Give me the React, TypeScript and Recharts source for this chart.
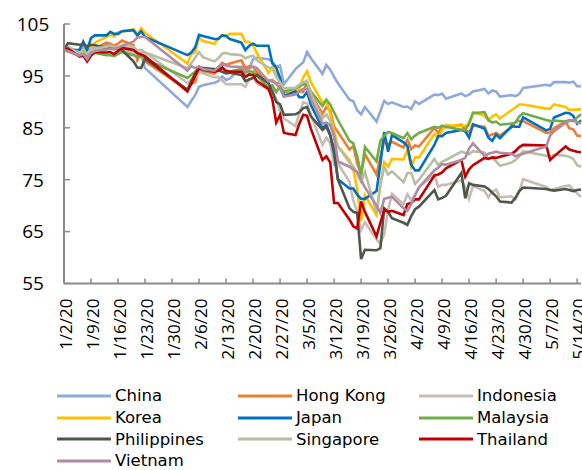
import React from 'react';
import { LineChart, Line, XAxis, YAxis, Legend } from 'recharts';

// Trading dates (2020)
const dates = [
  '1/2', '1/3', '1/6', '1/7', '1/8', '1/9', '1/10', '1/13', '1/14', '1/15', '1/16', '1/17', '1/20', '1/21', '1/22', '1/23',
  '2/3', '2/4', '2/5', '2/6', '2/7', '2/10', '2/11', '2/12', '2/13', '2/14', '2/17', '2/18', '2/19', '2/20', '2/21', '2/24', '2/25', '2/26', '2/27', '2/28',
  '3/2', '3/3', '3/4', '3/5', '3/6', '3/9', '3/10', '3/11', '3/12', '3/13', '3/16', '3/17', '3/18', '3/19', '3/20', '3/23', '3/24', '3/25', '3/26', '3/27', '3/30', '3/31',
  '4/1', '4/2', '4/3', '4/7', '4/8', '4/9', '4/10', '4/14', '4/15', '4/16', '4/17', '4/20', '4/21', '4/22', '4/23', '4/24', '4/27', '4/28', '4/29', '4/30',
  '5/6', '5/7', '5/8', '5/11', '5/12', '5/13', '5/14', '5/15',
];

const china = [
  100, 99.9, 99.9, 100.6, 99.4, 100.3, 100.2, 101.0, 100.7, 100.2, 99.6, 99.7, 100.3, 98.9, 99.2, 96.5,
  89.0, 90.2, 91.3, 92.9, 93.2, 93.7, 94.0, 94.9, 94.2, 94.5, 96.7, 96.8, 96.4, 98.2, 98.5, 98.2, 97.7, 96.8, 97.0, 93.4,
  96.3, 97.0, 97.6, 99.6, 98.4, 95.4, 97.1, 96.2, 94.8, 93.6, 90.4, 90.1, 88.4, 87.6, 89.0, 86.2, 88.2, 90.2, 89.6, 89.9, 89.0, 89.1,
  88.6, 90.1, 89.6, 91.4, 91.3, 91.6, 90.6, 91.6, 91.1, 91.4, 92.0, 92.5, 91.6, 92.2, 92.0, 91.0, 91.3, 91.1, 91.5, 92.7,
  93.3, 93.1, 93.8, 93.8, 93.7, 93.9, 93.0, 93.0,
];

const hongKong = [
  100, 99.7, 98.9, 99.2, 98.4, 100.1, 100.3, 101.4, 101.2, 100.8, 101.2, 101.8, 100.9, 98.0, 99.3, 97.8,
  92.3, 93.5, 93.8, 96.3, 96.0, 95.4, 96.6, 97.5, 97.1, 97.4, 98.0, 96.5, 96.9, 96.7, 95.7, 94.0, 94.2, 93.5, 93.8, 91.5,
  92.1, 92.1, 91.9, 93.8, 91.6, 87.7, 89.0, 88.4, 85.2, 84.2, 80.8, 81.5, 78.1, 76.1, 79.9, 76.0, 79.4, 82.4, 81.8, 82.3, 81.2, 82.7,
  80.9, 81.6, 81.4, 85.0, 84.0, 85.1, 85.1, 85.6, 84.6, 84.1, 85.4, 85.2, 83.4, 83.7, 84.0, 83.5, 85.1, 86.1, 86.3, 86.3,
  84.0, 84.1, 84.9, 86.2, 84.9, 84.7, 83.5, 83.4,
];

const indonesia = [
  100, 100.6, 99.6, 99.9, 99.1, 99.9, 99.9, 100.2, 100.7, 100.0, 100.0, 100.1, 99.4, 99.3, 99.2, 99.5,
  93.6, 94.3, 94.8, 95.6, 95.5, 94.7, 94.8, 94.1, 93.4, 93.4, 93.4, 92.9, 94.4, 94.6, 93.6, 92.4, 92.1, 90.5, 88.1, 86.8,
  85.3, 87.8, 89.9, 89.7, 87.5, 81.7, 83.1, 82.0, 77.9, 78.1, 74.6, 70.9, 68.9, 65.3, 66.8, 63.5, 62.7, 64.5, 69.1, 72.3, 70.3, 72.2,
  71.1, 72.1, 73.6, 76.0, 73.6, 74.0, 74.0, 74.9, 73.6, 71.3, 73.8, 72.8, 71.6, 72.7, 73.1, 71.6, 71.8, 71.2, 72.7, 75.1,
  73.6, 73.0, 73.2, 73.8, 73.9, 73.0, 72.4, 71.7,
];

const korea = [
  100, 100.1, 99.1, 100.0, 98.9, 100.5, 101.4, 102.5, 102.9, 102.6, 103.4, 103.5, 104.0, 103.0, 104.2, 103.3,
  97.4, 99.2, 99.6, 102.4, 101.7, 101.2, 102.2, 102.9, 102.7, 103.1, 103.1, 101.5, 101.6, 100.9, 99.4, 95.6, 96.7, 95.5, 94.5, 91.3,
  92.1, 92.6, 94.7, 95.9, 93.8, 89.9, 90.2, 87.7, 84.3, 81.4, 78.8, 76.9, 73.2, 67.0, 72.0, 68.2, 74.0, 78.4, 77.5, 79.0, 78.9, 80.7,
  77.5, 79.3, 79.3, 83.8, 83.1, 84.6, 85.5, 85.4, 85.4, 85.4, 88.0, 87.3, 86.4, 87.2, 87.6, 86.8, 88.4, 88.9, 89.5, 89.5,
  88.7, 88.7, 89.5, 89.0, 88.4, 88.5, 88.5, 88.6,
];

const japan = [
  100, 100, 100, 101.6, 100.0, 102.3, 102.8, 102.8, 103.5, 103.1, 103.1, 103.6, 103.8, 102.8, 103.6, 102.5,
  99.0, 99.5, 100.5, 102.9, 102.7, 102.1, 102.1, 102.8, 102.7, 102.1, 101.4, 100.0, 100.8, 101.2, 100.8, 100.8, 97.4, 96.6, 94.6, 91.1,
  92.0, 90.9, 90.9, 91.9, 89.4, 84.9, 85.6, 83.7, 80.0, 75.1, 73.3, 73.3, 72.1, 71.3, 71.3, 72.8, 78.0, 84.2, 80.4, 83.6, 82.2, 81.5,
  77.9, 76.8, 76.8, 81.7, 83.4, 83.4, 84.0, 84.6, 84.3, 83.1, 85.7, 84.8, 83.1, 82.5, 83.7, 83.0, 85.3, 85.2, 85.2, 87.0,
  84.5, 84.8, 87.0, 87.9, 87.8, 87.3, 85.8, 86.4,
];

const malaysia = [
  100, 99.9, 99.2, 99.4, 98.9, 99.3, 99.4, 99.0, 99.0, 98.8, 99.2, 99.6, 99.0, 98.6, 98.8, 98.2,
  94.6, 95.2, 95.8, 96.4, 95.9, 96.0, 96.1, 96.6, 95.7, 95.9, 96.3, 95.6, 95.9, 95.8, 95.0, 92.8, 93.2, 91.9, 93.0, 92.0,
  92.6, 93.0, 93.4, 93.3, 92.0, 89.2, 90.4, 89.5, 88.0, 86.5, 82.5, 82.0, 79.5, 75.9, 81.3, 78.5, 82.5, 83.5, 84.2, 84.0, 83.0, 84.0,
  82.8, 83.5, 84.0, 85.2, 85.0, 85.4, 85.2, 84.6, 84.5, 86.0, 87.8, 88.0, 86.5, 86.0, 86.2, 85.6, 85.8, 86.0, 87.2, 87.8,
  86.5, 86.3, 86.4, 86.2, 86.5, 86.3, 87.0, 87.6,
];

const philippines = [
  100, 101.3, 101.0, 101.1, 100.7, 101.0, 100.9, 100.4, 100.6, 100.5, 100.3, 100.0, 97.8, 96.6, 96.5, 98.3,
  92.3, 94.0, 95.5, 96.8, 96.5, 96.3, 96.1, 95.8, 95.5, 95.6, 95.2, 94.0, 94.3, 94.6, 95.2, 93.6, 92.0, 90.0, 89.5, 87.5,
  87.6, 88.0, 88.8, 89.0, 87.2, 84.6, 85.2, 83.5, 80.8, 75.0, 69.5, 68.8, 68.6, 59.7, 61.5, 61.4, 61.8, 69.5, 68.8, 67.6, 66.7, 66.3,
  68.0, 69.3, 69.8, 73.0, 71.2, 71.5, 71.9, 76.3, 71.4, 74.3, 74.0, 73.7, 73.2, 72.5, 71.8, 70.8, 70.6, 71.5, 72.8, 73.5,
  73.2, 73.0, 72.9, 73.2, 73.0, 72.8, 73.0, 73.1,
];

const singapore = [
  100, 100.3, 99.5, 99.7, 99.3, 100.2, 100.3, 100.6, 100.8, 100.6, 100.5, 100.7, 100.6, 99.9, 100.0, 99.5,
  96.5, 97.5, 98.5, 99.6, 98.6, 97.8, 98.4, 99.3, 99.4, 99.2, 99.0, 98.4, 98.7, 98.9, 98.0, 96.6, 96.5, 94.8, 93.8, 92.6,
  92.7, 93.3, 93.8, 94.0, 91.6, 86.8, 87.6, 86.4, 83.0, 81.5, 78.3, 77.6, 76.0, 74.6, 76.5, 68.7, 74.0, 77.5, 76.0, 76.6, 74.5, 76.3,
  76.3, 74.2, 75.0, 79.0, 77.8, 78.5, 78.8, 80.4, 80.2, 79.9, 80.5, 80.2, 79.0, 79.2, 78.5, 77.7, 78.3, 78.8, 79.5, 80.5,
  79.6, 79.4, 79.8, 79.6, 79.4, 79.0, 77.8, 77.5,
];

const thailand = [
  100, 100.3, 98.7, 98.9, 97.8, 98.9, 99.6, 99.5, 99.6, 99.2, 99.8, 100.4, 100.0, 99.4, 99.1, 98.8,
  92.0, 93.5, 95.0, 96.5, 96.2, 95.8, 96.0, 96.6, 96.0, 95.8, 95.8, 94.8, 95.3, 95.2, 94.0, 92.5, 90.5, 86.0, 87.5, 84.0,
  83.6, 85.8, 87.5, 87.3, 84.8, 78.8, 79.5, 78.3, 70.5, 70.5, 67.3, 66.0, 65.6, 70.8, 68.8, 64.1, 66.7, 69.2, 68.8, 69.0, 68.2, 70.3,
  70.5, 71.2, 71.2, 75.8, 76.0, 76.4, 77.2, 78.8, 75.6, 77.0, 77.8, 79.2, 79.0, 79.3, 79.2, 79.4, 80.0, 80.5, 81.3, 81.7,
  81.6, 78.8, 79.5, 81.4, 80.8, 80.6, 80.4, 80.3,
];

const vietnam = [
  100, 99.8, 98.9, 99.2, 98.2, 99.4, 99.8, 100.1, 100.2, 100.2, 100.4, 100.8, 101.6, 102.4, 102.5, 102.5,
  96.0, 96.9, 96.5, 96.8, 96.3, 96.0, 96.7, 97.2, 97.0, 96.8, 96.7, 96.0, 96.5, 96.8, 96.5, 94.0, 94.0, 93.5, 92.5, 91.0,
  91.4, 92.0, 92.5, 92.5, 90.5, 85.8, 86.0, 85.5, 83.5, 78.5, 77.5, 77.0, 76.5, 75.0, 73.5, 70.0, 68.6, 71.3, 71.5, 71.7, 69.5, 69.0,
  70.3, 72.0, 73.5, 76.8, 77.3, 78.0, 77.9, 78.8, 79.2, 81.0, 82.0, 79.6, 80.0, 80.2, 80.4, 80.2, 80.0, 79.5, 79.8, 80.0,
  81.4, 83.5, 84.3, 86.0, 86.3, 86.5, 86.0, 85.9,
];

const seriesNames = ['China', 'Hong Kong', 'Indonesia', 'Korea', 'Japan', 'Malaysia', 'Philippines', 'Singapore', 'Thailand', 'Vietnam'];
const seriesColors = ['#8EA9DB', '#ED7D31', '#C6BCB5', '#FFC000', '#0070C0', '#70AD47', '#4F574B', '#B6BEA4', '#C00000', '#B28BA2'];
const seriesValues = [china, hongKong, indonesia, korea, japan, malaysia, philippines, singapore, thailand, vietnam];

const tickDates = ['1/2', '1/9', '1/16', '1/23', '1/30', '2/6', '2/13', '2/20', '2/27', '3/5', '3/12', '3/19', '3/26', '4/2', '4/9', '4/16', '4/23', '4/30', '5/7', '5/14'];
const yTicks = [55, 65, 75, 85, 95, 105];

const BASE = Date.UTC(2020, 0, 2);
const dayOf = (s: string) => {
  const [m, d] = s.split('/').map(Number);
  return Math.round((Date.UTC(2020, m - 1, d) - BASE) / 86400000);
};

const rows = dates.map((d, i) => {
  const r: Record<string, number> = { day: dayOf(d) };
  seriesNames.forEach((n, k) => {
    r[n] = seriesValues[k][i];
  });
  return r;
});

const xTicks = tickDates.map(dayOf);
const xLabel = new Map<number, string>(xTicks.map((t, i) => [t, tickDates[i] + '/20']));

const AXIS = '#8a8a8a';
const FONT = '"Open Sans", "DejaVu Sans", sans-serif';
const LEGEND_FONT = '"DejaVu Sans", "Open Sans", sans-serif';

const YTick = (props: any) => {
  const { x, y, payload } = props;
  return (
    <g>
      <line x1={x} x2={x + 6} y1={y} y2={y} stroke={AXIS} strokeWidth={1.5} />
      <text x={x - 31} y={y} dy={6.8} textAnchor="middle" fontSize={19} fontFamily={FONT} fill="#000">
        {payload.value}
      </text>
    </g>
  );
};

const XTick = (props: any) => {
  const { x, y, payload } = props;
  const tx = x + 8;
  const ty = y + 15;
  return (
    <g>
      <line x1={x} x2={x} y1={y} y2={y - 5} stroke={AXIS} strokeWidth={1.5} />
      <text
        x={tx}
        y={ty}
        transform={`rotate(-90 ${tx} ${ty})`}
        textAnchor="end"
        fontSize={17}
        fontFamily={FONT}
        fill="#000"
      >
        {xLabel.get(payload.value) ?? ''}
      </text>
    </g>
  );
};

const ROW = 21.8;

const LegendBox = () => (
  <div
    style={{
      display: 'grid',
      gridTemplateColumns: 'repeat(3, 181px)',
      paddingLeft: 57,
      fontFamily: LEGEND_FONT,
      fontSize: 16.5,
      lineHeight: `${ROW}px`,
      color: '#000',
    }}
  >
    {seriesNames.map((n, k) => (
      <div key={n} style={{ display: 'flex', alignItems: 'center', height: ROW, whiteSpace: 'nowrap' }}>
        <svg width={54} height={4} style={{ display: 'block' }}>
          <line x1={0} x2={54} y1={2} y2={2} stroke={seriesColors[k]} strokeWidth={3} />
        </svg>
        <span style={{ marginLeft: 4 }}>{n}</span>
      </div>
    ))}
  </div>
);

export default function App() {
  return (
    <div style={{ position: 'absolute', left: 0, top: 0, width: 582, height: 470, overflow: 'hidden', background: '#fff' }}>
      <LineChart width={582} height={470} data={rows} margin={{ top: 24, right: 1, left: 0, bottom: 0 }}>
        <XAxis
          dataKey="day"
          type="number"
          domain={[0, 134]}
          ticks={xTicks}
          interval={0}
          height={186.5}
          tickSize={0}
          tickMargin={0}
          tickLine={false}
          axisLine={{ stroke: AXIS, strokeWidth: 2 }}
          tick={XTick}
        />
        <YAxis
          type="number"
          domain={[55, 105]}
          ticks={yTicks}
          interval={0}
          width={64}
          tickSize={0}
          tickMargin={0}
          tickLine={false}
          axisLine={{ stroke: AXIS, strokeWidth: 2 }}
          tick={YTick}
        />
        {seriesNames.map((n, k) => (
          <Line
            key={n}
            type="linear"
            dataKey={n}
            stroke={seriesColors[k]}
            strokeWidth={2.6}
            dot={false}
            activeDot={false}
            isAnimationActive={false}
            connectNulls
          />
        ))}
        <Legend
          verticalAlign="bottom"
          wrapperStyle={{ position: 'absolute', left: 0, top: 385, bottom: 'auto', width: 582, height: 0, overflow: 'visible' }}
          content={<LegendBox />}
        />
      </LineChart>
    </div>
  );
}
